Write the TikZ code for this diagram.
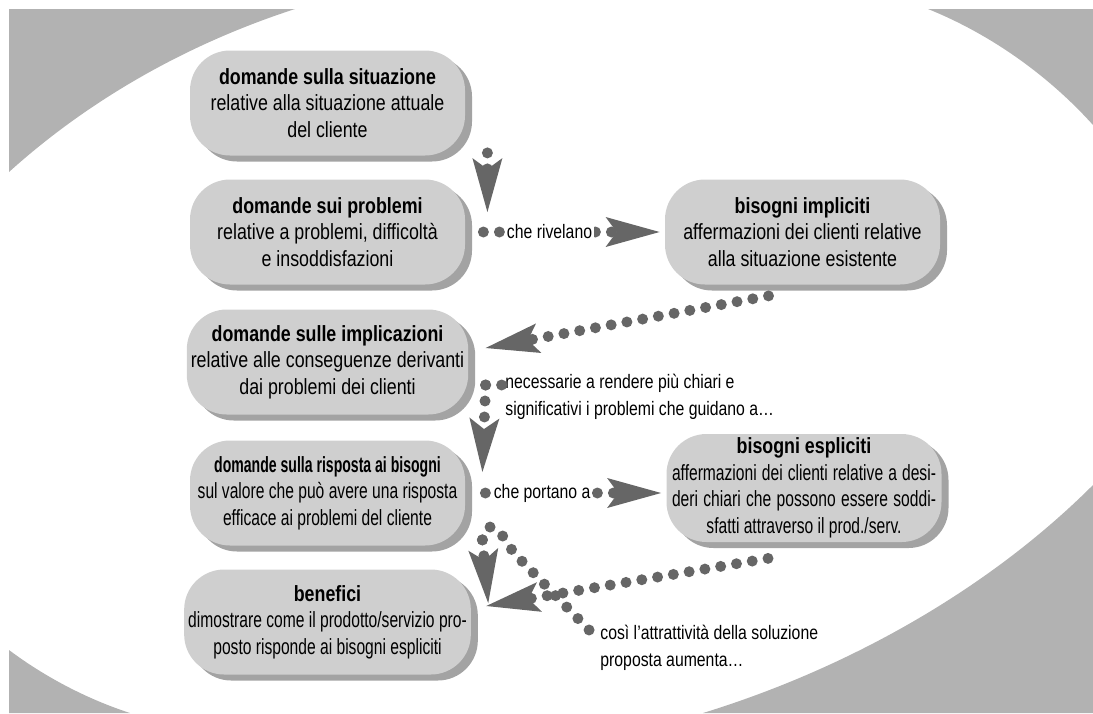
\documentclass[tikz,border=0pt]{standalone}
\usepackage{fontspec}
\usepackage{graphicx}
\setmainfont{Liberation Sans}[FakeStretch=0.81]
\newfontfamily\narrowfont{Liberation Sans}[FakeStretch=0.71]
\usetikzlibrary{arrows.meta,shadows}

\definecolor{bggray}{gray}{0.70}
\definecolor{boxgray}{gray}{0.81}
\definecolor{shadegray}{gray}{0.64}
\definecolor{dotgray}{gray}{0.40}

\begin{document}
\begin{tikzpicture}[x=0.5pt,y=-0.5pt,
  box/.style={rectangle, rounded corners=20pt, fill=boxgray, align=center,
    minimum width=137.5pt, minimum height=52.5pt, inner sep=2pt,
    font=\fontsize{11}{13.25}\selectfont,
    drop shadow={shadow xshift=3.5pt, shadow yshift=-3pt, fill=shadegray, opacity=1}},
  dots/.style={draw=dotgray, line width=5.5pt, line cap=round, dash pattern=on 0pt off 8pt},
  trail/.style={dots, -{Stealth[length=27pt, width=15pt, inset=5.5pt, line width=0pt, fill=dotgray]}},
  lbl/.style={font=\fontsize{9.75}{13}\selectfont, fill=white, inner xsep=1pt, inner ysep=1pt},
  note/.style={font=\fontsize{9.75}{13.5}\selectfont, align=left, inner sep=0pt}]

\useasboundingbox (0,0) rectangle (1093,713);
% background corners
\fill[bggray] (9,9) -- (9,172) .. controls (91,98) and (190,43) .. (295,9) -- cycle;
\fill[bggray] (928,9) .. controls (990,34) and (1048,75) .. (1093,125) -- (1093,9) -- cycle;
\fill[bggray] (1093,485) .. controls (987,591) and (846,669) .. (703,713) -- (1093,713) -- cycle;
\fill[bggray] (130,713) .. controls (87,699) and (45,677) .. (9,650) -- (9,713) -- cycle;

% left column
\node[box] (sit) at (327.5,103) {\textbf{domande sulla situazione}\\relative alla situazione attuale\\del cliente};
\node[box] (prob) at (327.5,232) {\textbf{domande sui problemi}\\relative a problemi, difficoltà\\e insoddisfazioni};
\node[box] (impl) at (327.5,362) {\textbf{domande sulle implicazioni}\\relative alle conseguenze derivanti\\dai problemi dei clienti};
\node[box] (risp) at (327.5,493) {{\narrowfont\bfseries\scalebox{0.9}[1]{domande sulla risposta ai bisogni}}\\
  {\narrowfont sul valore che può avere una risposta}\\{\narrowfont efficace ai problemi del cliente}};
\node[box] (ben) at (327.5,622) {\textbf{benefici}\\{\narrowfont dimostrare come il prodotto/servizio pro-}\\
  {\narrowfont posto risponde ai bisogni espliciti}};

% right column
\node[box] (bimp) at (802.5,232) {\textbf{bisogni impliciti}\\affermazioni dei clienti relative\\alla situazione esistente};
\node[box] (besp) at (804,488) {\textbf{bisogni espliciti}\\
  {\narrowfont\makebox[132pt][s]{affermazioni dei clienti relative a desi-}}\\
  {\narrowfont\makebox[132pt][s]{deri chiari che possono essere soddi-}}\\
  {\narrowfont sfatti attraverso il prod./serv.}};

% notes
\node[note, anchor=west] (nec) at (505,397) {necessarie a rendere più chiari e\\significativi i problemi che guidano a\dots};
\node[note, anchor=west] (cosi) at (600,648) {così l'attrattività della soluzione\\proposta aumenta\dots};

% connectors
\draw[trail] ([shift={(22,-3)}]sit.south east) -- ([shift={(22,33)}]prob.north east);
\draw[trail, shorten >=2.5pt] ([xshift=9pt]prob.east) -- node[lbl, pos=0.365] {che rivelano} (prob.east -| bimp.west);
\draw[trail] ([shift={(-34,11)}]bimp.south) -- ([shift={(17,-14)}]impl.east);
\draw[trail] ([shift={(17,23)}]impl.east) -- ([shift={(17,-21)}]risp.east);
\draw[dots] ([shift={(17,23)}]impl.east) -- ++(17,0);
\draw[trail, shorten >=2.5pt] ([xshift=10pt]risp.east) -- node[lbl, pos=0.314] {che portano a} (risp.east -| besp.west);
\draw[trail] ([shift={(17,-6)}]risp.south east) -- ([shift={(17,34)}]ben.north east);
\draw[dots] ([shift={(17,-6)}]risp.south east) .. controls (486,518) and (498,525) .. (513,552) -- ([shift={(-7,-14)}]cosi.west);
\draw[trail] ([shift={(-36,16)}]besp.south) -- ([shift={(15,-16)}]ben.east);

\end{tikzpicture}
\end{document}
